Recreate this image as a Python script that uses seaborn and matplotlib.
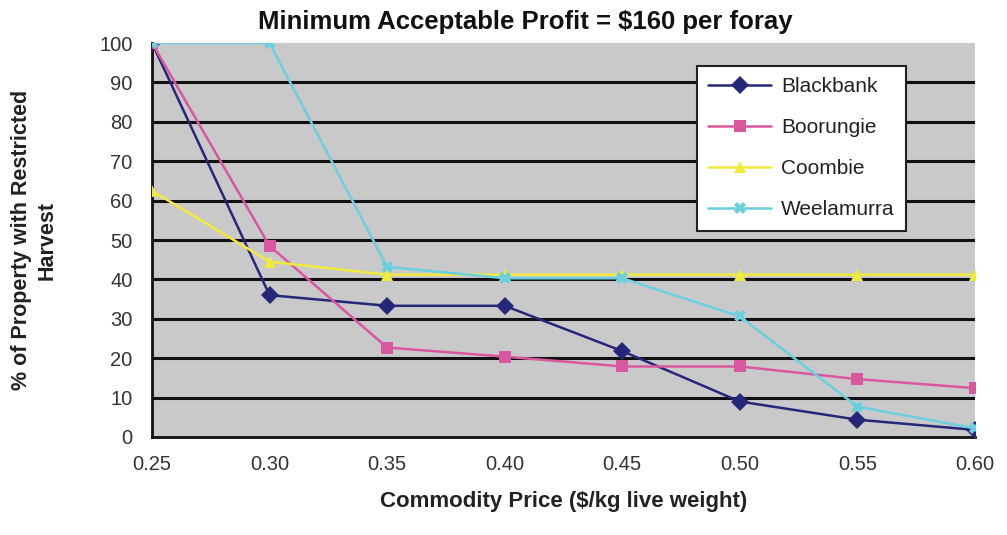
import matplotlib
matplotlib.use("Agg")
import matplotlib.pyplot as plt
import seaborn as sns
import pandas as pd

prices = [0.25, 0.30, 0.35, 0.40, 0.45, 0.50, 0.55, 0.60]
price_labels = ["0.25", "0.30", "0.35", "0.40", "0.45", "0.50", "0.55", "0.60"]
blackbank = [100, 36.0, 33.3, 33.3, 21.8, 9.0, 4.4, 1.8]
boorungie = [100, 48.5, 22.7, 20.4, 17.9, 17.9, 14.7, 12.4]
coombie = [62.5, 44.5, 41.2, 41.2, 41.2, 41.2, 41.2, 41.2]
weelamurra = [100, 100, 43.2, 40.3, 40.3, 30.6, 7.7, 2.2]
series_names = ["Blackbank", "Boorungie", "Coombie", "Weelamurra"]
y_ticks = [0, 10, 20, 30, 40, 50, 60, 70, 80, 90, 100]

colors = {"Blackbank": "#27277a", "Boorungie": "#d9579f", "Coombie": "#f0ea3c", "Weelamurra": "#6ccfe0"}
markers = {"Blackbank": "D", "Boorungie": "s", "Coombie": "^", "Weelamurra": "X"}

rows = []
for name, vals in zip(series_names, [blackbank, boorungie, coombie, weelamurra]):
    for p, v in zip(prices, vals):
        rows.append({"price": p, "value": v, "site": name})
df = pd.DataFrame(rows)

sns.set_style("white")
plt.rcParams["font.family"] = ["Liberation Sans", "DejaVu Sans"]

fig = plt.figure(figsize=(10.07, 5.35), dpi=100)
ax = fig.add_axes([152/1007, 1 - 437/535, (975-152)/1007, (437-43)/535])
ax.set_facecolor("#c9c9c9")

for y in y_ticks[1:-1]:
    ax.axhline(y, color="#111111", lw=2.2, zorder=1)

sns.lineplot(data=df, x="price", y="value", hue="site", style="site",
             palette=colors, markers=markers, dashes=False, markersize=9,
             linewidth=1.8, markeredgewidth=0, ax=ax, zorder=3,
             hue_order=series_names, style_order=series_names)

ax.set_xlim(0.25, 0.60)
ax.set_ylim(0, 100)
ax.set_xticks(prices)
ax.set_xticklabels(price_labels, fontsize=14.5, color="#333333")
ax.set_yticks(y_ticks)
ax.set_yticklabels([str(t) for t in y_ticks], fontsize=14.5, color="#333333")
ax.tick_params(axis="x", direction="out", length=6, width=1.5, color="#111111", pad=7)
ax.tick_params(axis="y", direction="out", length=6, width=1.5, color="#111111", pad=8)
for side in ["top", "right"]:
    ax.spines[side].set_visible(False)
for side in ["left", "bottom"]:
    ax.spines[side].set_color("#111111")
    ax.spines[side].set_linewidth(2)

ax.set_xlabel("Commodity Price ($/kg live weight)", fontsize=16, fontweight="bold",
              color="#222222", labelpad=12)
ax.set_ylabel("% of Property with Restricted\nHarvest", fontsize=15.5, fontweight="bold",
              color="#222222", labelpad=30, linespacing=1.3)
fig.text(525/1007, 1 - 22/535, "Minimum Acceptable Profit = $160 per foray",
         fontsize=18.5, fontweight="bold", ha="center", va="center", color="#111111")

leg = ax.legend(loc="upper left", bbox_to_anchor=((697-152)/823, 1 - (66-43)/394),
                frameon=True, fancybox=False, fontsize=15, handlelength=3.0,
                borderpad=0.55, labelspacing=1.05, handletextpad=0.5, borderaxespad=0)
leg.get_frame().set_edgecolor("#222222")
leg.get_frame().set_linewidth(1.5)
leg.get_frame().set_facecolor("white")
leg.get_frame().set_alpha(1)
for t in leg.get_texts():
    t.set_color("#222222")

fig.savefig("out.png", dpi=100, facecolor="white")
